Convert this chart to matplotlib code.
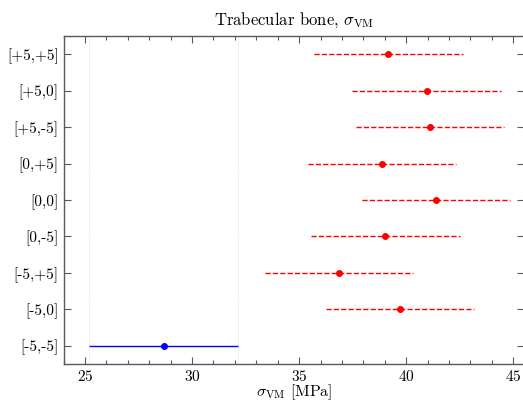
import matplotlib
matplotlib.use("Agg")
import matplotlib.pyplot as plt
from matplotlib.ticker import MultipleLocator

# data, bottom to top
labels = ["[-5,-5]", "[-5,0]", "[-5,+5]", "[0,-5]", "[0,0]", "[0,+5]", "[+5,-5]", "[+5,0]", "[+5,+5]"]
means = [28.67, 39.71, 36.87, 39.02, 41.39, 38.88, 41.12, 40.95, 39.16]
stds = [3.49, 3.47, 3.47, 3.48, 3.46, 3.46, 3.46, 3.46, 3.47]
reference = "[-5,-5]"

plt.rcParams["font.family"] = "cmr10"
plt.rcParams["mathtext.fontset"] = "cm"
plt.rcParams["axes.unicode_minus"] = False
plt.rcParams["axes.formatter.use_mathtext"] = True

fig = plt.figure(figsize=(5.23, 4.04), dpi=100)
ax = fig.add_axes([63.5 / 523, 1 - 364 / 404, (524 - 63.5) / 523, (364 - 36) / 404])

for i, (lab, m, s) in enumerate(zip(labels, means, stds)):
    if lab == reference:
        ax.errorbar(m, i, xerr=s, fmt="o", color="blue", ms=4, lw=1, capsize=0)
        ax.axvline(m - s, color="lightgray", lw=0.6, ls=":", zorder=0)
        ax.axvline(m + s, color="lightgray", lw=0.6, ls=":", zorder=0)
    else:
        eb = ax.errorbar(m, i, xerr=s, fmt="o", color="red", ms=4, lw=1, capsize=0)
        eb[-1][0].set_linestyle("--")

ax.set_yticks(range(len(labels)))
ax.set_yticklabels(labels)
ax.set_ylim(-0.5, len(labels) - 0.5)
ax.set_xlim(24, 45.5)
ax.xaxis.set_major_locator(MultipleLocator(5))
ax.xaxis.set_minor_locator(MultipleLocator(1))

ax.tick_params(which="both", direction="in", top=True, right=True, labelsize=11, color="0.35")
ax.tick_params(which="major", length=5, width=0.8)
ax.tick_params(which="minor", length=3, width=0.8)
ax.tick_params(axis="x", pad=3.5)
for sp in ax.spines.values():
    sp.set_color("0.35")
    sp.set_linewidth(1.0)

ax.set_title(r"Trabecular bone, $\sigma_{\rm VM}$", fontsize=12, pad=8)
ax.set_xlabel(r"$\sigma_{\rm VM}$ [MPa]", fontsize=11.5, labelpad=-1)

fig.savefig("out.png", dpi=100)
